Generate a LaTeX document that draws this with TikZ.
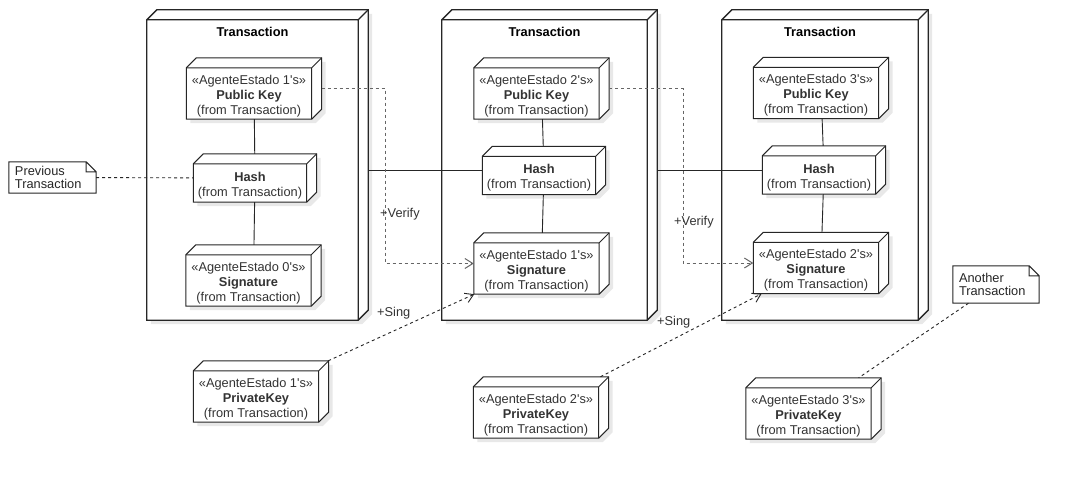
\documentclass[tikz,border=0pt]{standalone}
\usepackage{fontspec}
\setmainfont{Liberation Sans}[Ligatures=TeXOff]
\usetikzlibrary{arrows.meta,shadows}
\tikzset{
  every node/.style={font=\fontsize{12.8pt}{15pt}\selectfont},
  cube/.style={inner sep=0pt, append after command={\pgfextra{
    \filldraw[draw=black!85, line width=#1, fill=white,
      drop shadow={shadow xshift=4pt, shadow yshift=-4pt, fill=black!9, opacity=1}]
      (\tikzlastnode.south west) -- ([yshift=-10pt]\tikzlastnode.north west)
      -- ([xshift=10pt]\tikzlastnode.north west) -- (\tikzlastnode.north east)
      -- ([yshift=10pt]\tikzlastnode.south east) -- ([xshift=-10pt]\tikzlastnode.south east) -- cycle;
    \draw[draw=black!85, line width=#1]
      ([yshift=-10pt]\tikzlastnode.north west) -- ([shift={(-10pt,-10pt)}]\tikzlastnode.north east)
      -- ([xshift=-10pt]\tikzlastnode.south east)
      ([shift={(-10pt,-10pt)}]\tikzlastnode.north east) -- (\tikzlastnode.north east);
  }}},
  cube/.default=1pt,
  txt/.style={align=center, xshift=-5pt, yshift=-7.5pt, text=black!80},
  key/.style={cube, minimum width=135pt, minimum height=61pt, label={[txt]center:{#1}}},
  hashbox/.style={cube, minimum width=123pt, minimum height=48pt, label={[txt]center:{#1}}},
  txbox/.style={cube=1.3pt, minimum height=310pt,
    label={[anchor=north, inner sep=0pt, xshift=-5pt, yshift=-17pt]north:\textbf{Transaction}}},
  note/.style={align=left, text width=#1, inner xsep=6pt, inner ysep=0pt, text=black!85,
    font=\fontsize{12.8pt}{13.5pt}\selectfont, append after command={\pgfextra{
    \draw[black!85, line width=1pt] (\tikzlastnode.south west) -- (\tikzlastnode.north west)
      -- ([xshift=-10pt]\tikzlastnode.north east) -- ([yshift=-10pt]\tikzlastnode.north east)
      -- (\tikzlastnode.south east) -- cycle
      ([xshift=-10pt]\tikzlastnode.north east) |- ([yshift=-10pt]\tikzlastnode.north east);
  }}},
  lab/.style={anchor=west, inner sep=1pt, text=black!80},
  link/.style={draw=black!85, line width=0.9pt},
  dep/.style={draw=black!85, line width=0.9pt, dashed},
  sing/.style={dep, -{Straight Barb[length=8pt,width=10pt]}},
  verify/.style={draw=black!60, line width=1pt, dashed, -{Straight Barb[length=8pt,width=10pt]}},
}
\begin{document}
\begin{tikzpicture}[x=1pt, y=-1pt]
\fill[white] (0,0) rectangle (1080,480);
\useasboundingbox (0,0) rectangle (1080,480);

% transactions
\node[txbox, minimum width=221pt] (tx1) at (257.5,165) {};
\node[txbox, minimum width=215pt] (tx2) at (549.5,165) {};
\node[txbox, minimum width=206pt] (tx3) at (825,165) {};

\node[key={«AgenteEstado 1's»\\\textbf{Public Key}\\(from Transaction)}] (pk1) at (254,88.5) {};
\node[hashbox={\textbf{Hash}\\(from Transaction)}] (hash1) at (255,178) {};
\node[key={«AgenteEstado 0's»\\\textbf{Signature}\\(from Transaction)}] (sig1) at (253.5,275.5) {};

\node[key={«AgenteEstado 2's»\\\textbf{Public Key}\\(from Transaction)}] (pk2) at (541.5,88.5) {};
\node[hashbox={\textbf{Hash}\\(from Transaction)}] (hash2) at (544,170.5) {};
\node[key={«AgenteEstado 1's»\\\textbf{Signature}\\(from Transaction)}] (sig2) at (541.5,263.5) {};

\node[key={«AgenteEstado 3's»\\\textbf{Public Key}\\(from Transaction)}] (pk3) at (821,88) {};
\node[hashbox={\textbf{Hash}\\(from Transaction)}] (hash3) at (824,170) {};
\node[key={«AgenteEstado 2's»\\\textbf{Signature}\\(from Transaction)}] (sig3) at (821,263) {};

% private keys
\node[key={«AgenteEstado 1's»\\\textbf{PrivateKey}\\(from Transaction)}] (priv1) at (261,391.5) {};
\node[key={«AgenteEstado 2's»\\\textbf{PrivateKey}\\(from Transaction)}] (priv2) at (541,407.5) {};
\node[key={«AgenteEstado 3's»\\\textbf{PrivateKey}\\(from Transaction)}] (priv3) at (813.5,408.5) {};

% notes
\node[note=75pt, minimum height=31pt] (prev) at (52.5,177.5) {Previous\\Transaction};
\node[note=74pt, minimum height=37pt] (another) at (996,284.5) {Another\\Transaction};

\draw[dep] (prev) -- (hash1);
\draw[dep] (another) -- (priv3);
\draw[link] (pk1) -- (hash1);
\draw[link] (hash1) -- (sig1);
\draw[link] (pk2) -- (hash2);
\draw[link] (hash2) -- (sig2);
\draw[link] (pk3) -- (hash3);
\draw[link] (hash3) -- (sig3);
\draw[link] (hash2.west -| tx1.east) -- (hash2.west);
\draw[link] (hash3.west -| tx2.east) -- (hash3.west);
\draw[verify] (pk1.east) -- ++(64,0) |- (sig2.west);
\draw[verify] (pk2.east) -- ++(74,0) |- (sig3.west);
\draw[sing] (priv1) -- (sig2);
\draw[sing] (priv2) -- (sig3);

\node[lab] (v1) at (379,214) {+Verify};
\node[lab] (v2) at (673,222) {+Verify};
\node[lab] (s1) at (376,313) {+Sing};
\node[lab] (s2) at (656,322) {+Sing};

\end{tikzpicture}
\end{document}
